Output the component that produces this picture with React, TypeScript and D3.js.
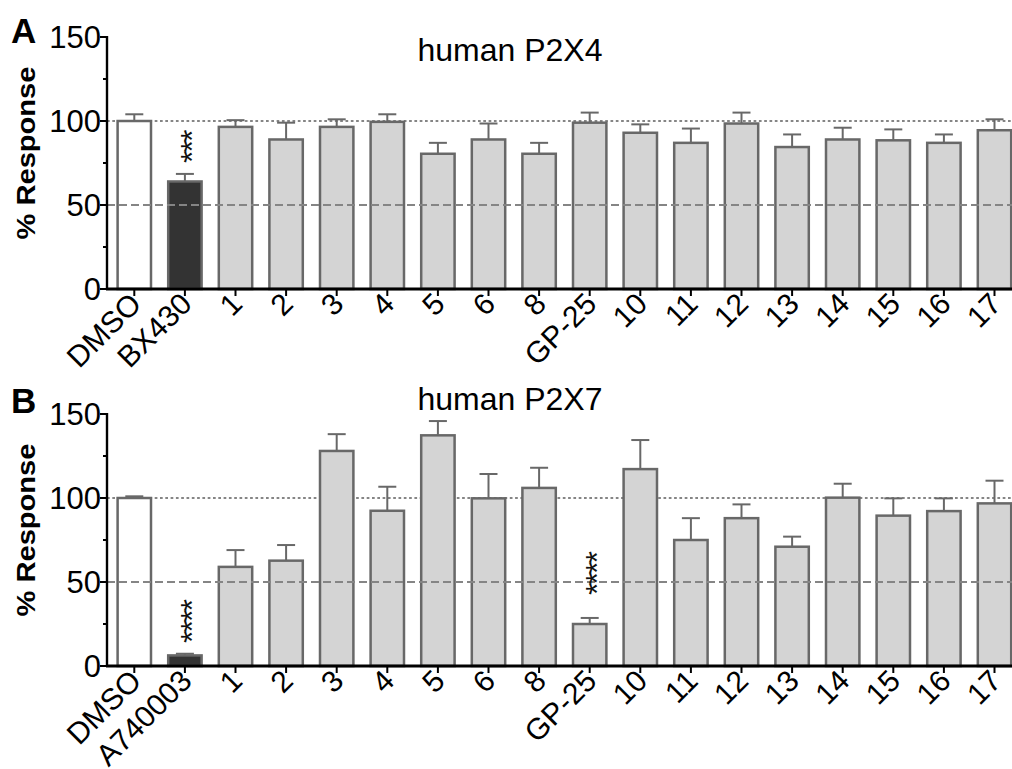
import React from "react";
import * as d3 from "d3";

// ---------- data ----------
const categoriesA = ["DMSO", "BX430", "1", "2", "3", "4", "5", "6", "8", "GP-25", "10", "11", "12", "13", "14", "15", "16", "17"];
const meanA = [100, 64, 96.5, 89, 96.5, 99.5, 80.5, 89, 80.5, 99, 93, 87, 98.5, 84.5, 89, 88.5, 87, 94.5];
const semA = [4, 4.5, 4, 10, 4.5, 4.5, 6.5, 9.5, 6.5, 6, 5, 8.5, 6.5, 7.5, 7, 6.5, 5, 6.5];

const categoriesB = ["DMSO", "A740003", "1", "2", "3", "4", "5", "6", "8", "GP-25", "10", "11", "12", "13", "14", "15", "16", "17"];
const meanB = [100, 6.3, 59, 62.7, 128, 92.4, 137.3, 99.8, 106, 25, 117.2, 75, 88, 71, 100.2, 89.5, 92.2, 96.8];
const semB = [1, 1, 10, 9.3, 10, 14.3, 8.5, 14.5, 12, 3.6, 17.3, 13, 8.2, 6, 8.3, 10.3, 7.6, 13.5];

const yMajorTicks = [0, 50, 100, 150];
const yMinorTicks = [25, 75, 125];

const starsA = [{ category: "BX430", label: "***", level: 75 }];
const starsB = [
  { category: "A740003", label: "****", level: 13.7 },
  { category: "GP-25", label: "****", level: 42.3 },
];

// ---------- style ----------
const FONT = "'Liberation Sans', Arial, Helvetica, sans-serif";
const BAR_STROKE = "#686868";
const FILLS: Record<string, string> = { vehicle: "#ffffff", reference: "#333333", test: "#d4d4d4" };
const kindOf = (i: number) => (i === 0 ? "vehicle" : i === 1 ? "reference" : "test");

const W = 1012;
const H = 769;
const AXIS_X = 107;

type Star = { category: string; label: string; level: number };

function Panel(props: {
  categories: string[];
  means: number[];
  sems: number[];
  stars: Star[];
  title: string;
  letter: string;
  top: number;
  bottom: number;
  titleY: number;
  letterY: number;
}) {
  const { categories, means, sems, stars, title, letter, top, bottom, titleY, letterY } = props;
  const x = d3
    .scaleBand<string>()
    .domain(categories)
    .range([109, 109 + 18 * 50.6])
    .paddingInner(0.34)
    .paddingOuter(0.17);
  const y = d3.scaleLinear().domain([0, 150]).range([bottom, top]);
  const bw = x.bandwidth();
  const cx = (c: string) => (x(c) as number) + bw / 2;

  return (
    <g>
      {/* letter */}
      <text x={11} y={letterY} fontFamily={FONT} fontWeight="bold" fontSize={35} fill="#000">
        {letter}
      </text>
      {/* title */}
      <text x={510} y={titleY} fontFamily={FONT} fontSize={32} textAnchor="middle" fill="#000">
        {title}
      </text>
      {/* y label */}
      <text
        transform={`translate(35,${(top + bottom) / 2 - 10}) rotate(-90)`}
        fontFamily={FONT}
        fontWeight="bold"
        fontSize={25}
        textAnchor="middle"
        textLength={173}
        lengthAdjust="spacingAndGlyphs"
        fill="#000"
      >
        % Response
      </text>

      {/* 100% dotted reference line (behind bars) */}
      <line x1={AXIS_X} x2={W} y1={y(100)} y2={y(100)} stroke="#858585" strokeWidth={2.2} strokeDasharray="2.7,2.6" />

      {/* bars */}
      {categories.map((c, i) => (
        <rect
          key={c}
          x={x(c)}
          y={y(means[i])}
          width={bw}
          height={bottom - y(means[i])}
          fill={FILLS[kindOf(i)]}
          stroke={BAR_STROKE}
          strokeWidth={2.5}
        />
      ))}

      {/* 50% dashed reference line (in front of bars) */}
      <line x1={AXIS_X} x2={W} y1={y(50)} y2={y(50)} stroke="#858585" strokeWidth={1.9} strokeDasharray="8,4" />

      {/* error bars */}
      {categories.map((c, i) => {
        const xc = cx(c);
        const y1 = y(means[i]);
        const y2 = y(means[i] + sems[i]);
        return (
          <g key={"e" + c} stroke={BAR_STROKE} strokeWidth={2}>
            <line x1={xc} x2={xc} y1={y1} y2={y2} />
            <line x1={xc - 9} x2={xc + 9} y1={y2} y2={y2} />
          </g>
        );
      })}

      {/* significance stars */}
      {stars.map((s) => (
        <text
          key={"s" + s.category}
          transform={`translate(${cx(s.category)},${y(s.level)}) rotate(-90)`}
          dy="0.58em"
          fontFamily={FONT}
          fontSize={32}
          letterSpacing={-2}
          textAnchor="start"
          fill="#111"
        >
          {s.label}
        </text>
      ))}

      {/* y axis */}
      <line x1={AXIS_X} x2={AXIS_X} y1={y(150) - 1} y2={bottom} stroke="#000" strokeWidth={2.4} />
      {yMajorTicks.map((t) => (
        <g key={"yt" + t}>
          <line x1={AXIS_X - 7} x2={AXIS_X} y1={y(t)} y2={y(t)} stroke="#000" strokeWidth={2} />
          <text x={101} y={y(t)} dy="0.36em" fontFamily={FONT} fontSize={31} textAnchor="end" fill="#000">
            {t}
          </text>
        </g>
      ))}
      {yMinorTicks.map((t) => (
        <line key={"ym" + t} x1={AXIS_X - 4} x2={AXIS_X} y1={y(t)} y2={y(t)} stroke="#000" strokeWidth={2} />
      ))}

      {/* x axis */}
      <line x1={AXIS_X - 1} x2={W} y1={bottom} y2={bottom} stroke="#000" strokeWidth={2.8} />
      {categories.map((c) => (
        <g key={"xt" + c}>
          <line x1={cx(c)} x2={cx(c)} y1={bottom} y2={bottom + 7} stroke="#000" strokeWidth={2} />
          <text
            transform={`translate(${cx(c) + 1},${bottom + 9}) rotate(-45)`}
            dy="0.36em"
            fontFamily={FONT}
            fontSize={30}
            textAnchor="end"
            fill="#000"
          >
            {c}
          </text>
        </g>
      ))}
    </g>
  );
}

export default function App() {
  return (
    <svg
      width={W}
      height={H}
      viewBox={`0 0 ${W} ${H}`}
      style={{ position: "absolute", left: 0, top: 0, background: "#fff" }}
    >
      <rect width={W} height={H} fill="#fff" />
      <Panel
        categories={categoriesA}
        means={meanA}
        sems={semA}
        stars={starsA}
        title="human P2X4"
        letter="A"
        top={37}
        bottom={289}
        titleY={60.5}
        letterY={43}
      />
      <Panel
        categories={categoriesB}
        means={meanB}
        sems={semB}
        stars={starsB}
        title="human P2X7"
        letter="B"
        top={414}
        bottom={666}
        titleY={410}
        letterY={413}
      />
    </svg>
  );
}
